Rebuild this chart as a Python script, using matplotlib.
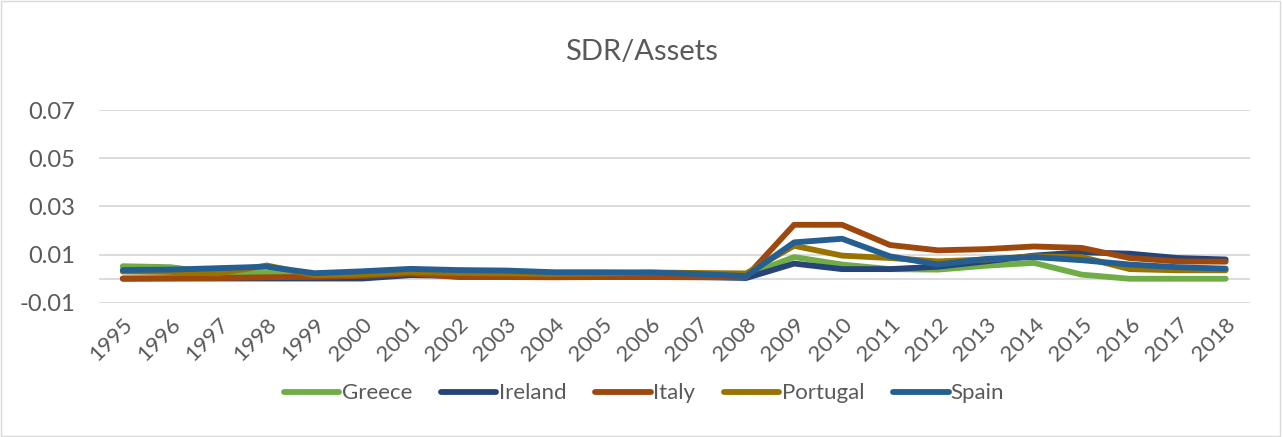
import numpy as np
import matplotlib
matplotlib.use('Agg')
import matplotlib.pyplot as plt
from matplotlib.patches import Rectangle

plt.rcParams['font.family'] = ['Lato', 'DejaVu Sans']

years = [str(y) for y in range(1995, 2019)]

greece = [0.0052, 0.0048, 0.0022, 0.0024, 0.0020, 0.0020, 0.0022, 0.0020, 0.0019, 0.0018,
          0.0018, 0.0018, 0.0017, 0.0015, 0.0090, 0.0059, 0.0040, 0.0038, 0.0054, 0.0066,
          0.0017, 0.0000, 0.0000, 0.0000]
ireland = [0.0001, 0.0001, 0.0001, 0.0001, 0.0001, 0.0001, 0.0015, 0.0012, 0.0011, 0.0010,
           0.0010, 0.0009, 0.0007, 0.0003, 0.0063, 0.0040, 0.0040, 0.0050, 0.0072, 0.0096,
           0.0110, 0.0104, 0.0086, 0.0080]
italy = [0.0000, 0.0002, 0.0003, 0.0006, 0.0008, 0.0012, 0.0022, 0.0007, 0.0007, 0.0006,
         0.0007, 0.0007, 0.0006, 0.0008, 0.0224, 0.0224, 0.0140, 0.0118, 0.0123, 0.0134,
         0.0128, 0.0086, 0.0072, 0.0071]
portugal = [0.0030, 0.0028, 0.0022, 0.0055, 0.0015, 0.0018, 0.0028, 0.0024, 0.0022, 0.0020,
            0.0022, 0.0026, 0.0024, 0.0022, 0.0137, 0.0096, 0.0086, 0.0072, 0.0080, 0.0093,
            0.0090, 0.0040, 0.0035, 0.0035]
spain = [0.0036, 0.0038, 0.0044, 0.0050, 0.0023, 0.0031, 0.0041, 0.0036, 0.0034, 0.0027,
         0.0027, 0.0026, 0.0020, 0.0011, 0.0151, 0.0166, 0.0093, 0.0059, 0.0082, 0.0090,
         0.0077, 0.0059, 0.0048, 0.0042]

series = [('Greece', greece, '#70AD47'),
          ('Ireland', ireland, '#264478'),
          ('Italy', italy, '#9E480E'),
          ('Portugal', portugal, '#997300'),
          ('Spain', spain, '#255E91')]

text_color = '#595959'
grid_color = '#D9D9D9'

fig = plt.figure(figsize=(12.83, 4.37), dpi=100)
ax = fig.add_axes([0.077, 0.307, 0.897, 0.441])

x = np.arange(len(years))
for name, vals, col in series:
    ax.plot(x, vals, color=col, lw=4.2, label=name, solid_capstyle='round', solid_joinstyle='round')

ax.set_xlim(-0.5, len(years) - 0.5)
ax.set_ylim(-0.01, 0.07)
ax.set_yticks([-0.01, 0.01, 0.03, 0.05, 0.07])
ax.set_yticklabels(['-0.01', '0.01', '0.03', '0.05', '0.07'])
ax.set_xticks(x)
ax.set_xticklabels(years, rotation=45, ha='right', rotation_mode='anchor')
ax.tick_params(axis='both', length=0, colors=text_color)
ax.tick_params(axis='y', labelsize=17, pad=17)
ax.tick_params(axis='x', labelsize=16, pad=8)
ax.grid(axis='y', color=grid_color, lw=1.3)
ax.axhline(0, color=grid_color, lw=1.3, zorder=0)
ax.set_axisbelow(True)
for s in ax.spines.values():
    s.set_visible(False)

fig.text(0.5, 0.882, 'SDR/Assets', ha='center', va='center', fontsize=21, color=text_color)

leg = fig.legend(loc='center', bbox_to_anchor=(0.502, 0.1), ncol=5, frameon=False,
                 fontsize=16, handlelength=2.5, handletextpad=0.1, columnspacing=1.3,
                 labelcolor=text_color)

fig.patches.append(Rectangle((0.001, 0.002), 0.997, 0.995, transform=fig.transFigure,
                             fill=False, edgecolor='#D9D9D9', lw=1))

plt.savefig('out.png', dpi=100)
